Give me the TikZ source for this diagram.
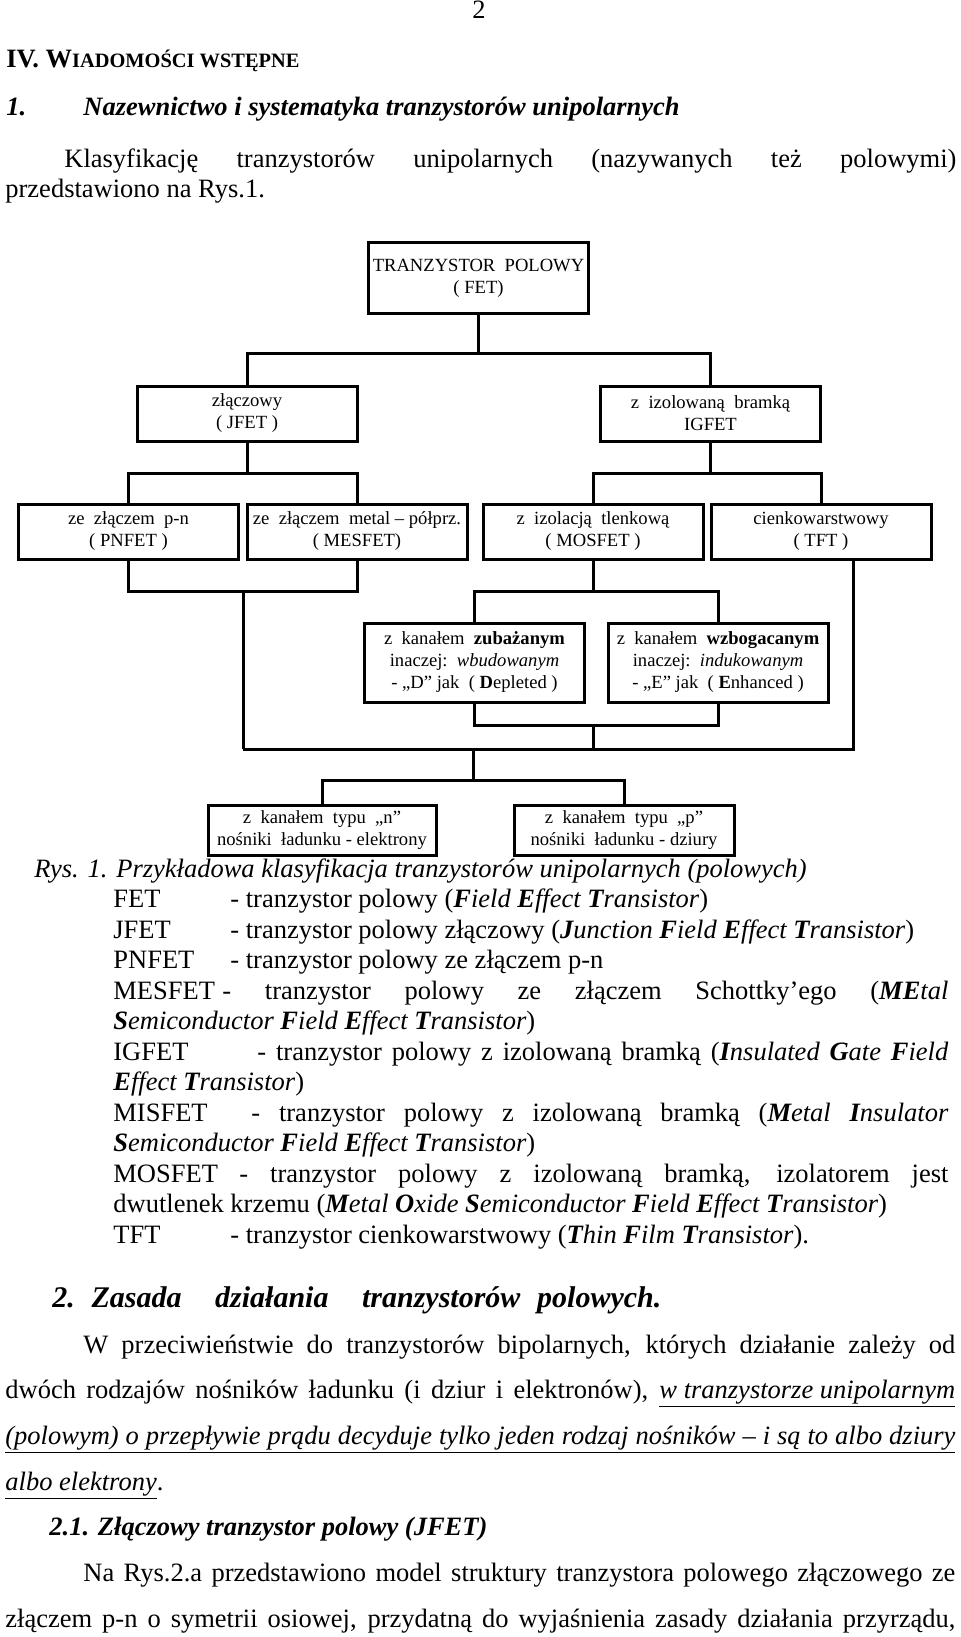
\documentclass[tikz,border=0pt]{standalone}
\usepackage{fontspec}
\setmainfont{Liberation Serif}

\begin{document}
\begin{tikzpicture}[x=0.5pt, y=-0.5pt]
		\tikzstyle{Box} = [rectangle, minimum width=110pt, minimum height=27.5pt, align=center, draw=black, line width=1.5pt, inner sep=0pt, font=\fontsize{9.3}{11}\selectfont]
		\tikzstyle{Line} = [line width=1.5pt]
		\tikzstyle{Txt} = [anchor=base west, inner sep=0pt, font=\fontsize{13.25}{15.5}\selectfont]
		
		\useasboundingbox (0,0) rectangle (960,1637);
		\fill [white] (0,0) rectangle (960,1637);
		
		% page head
		\node (pageNo) [Txt, anchor=base] at (479,19) {2};
		\node (chapter) [Txt] at (6,68) {\bfseries IV. W{\fontsize{10.2}{12}\selectfont IADOMOŚCI WSTĘPNE}};
		\node (secNo) [Txt] at (6,116) {\bfseries\itshape 1.};
		\node (secTitle) [Txt] at (83,116) {\bfseries\itshape Nazewnictwo i systematyka tranzystorów unipolarnych};
		\node (intro1) [Txt] at (64,168) {\makebox[446pt][s]{Klasyfikację tranzystorów unipolarnych (nazywanych też polowymi)}};
		\node (intro2) [Txt] at (5,198) {przedstawiono na Rys.1.};
		
		% tree
		\node (fetNode) [Box, minimum height=35pt] at (478.5,278) {TRANZYSTOR\ \ POLOWY\\( FET)};
		\node (jfetNode) [Box] at (247,413.5) {złączowy\\( JFET )};
		\node (igfetNode) [Box] at (710.5,413.5) {z\ \ izolowaną\ \ bramką\\IGFET};
		\node (pnfetNode) [Box] at (128.5,531.5) {ze\ \ złączem\ \ p-n\\( PNFET )};
		\node (mesfetNode) [Box] at (357,531.5) {ze\ \ złączem\ \ metal – półprz.\\( MESFET)};
		\node (mosfetNode) [Box] at (593,531.5) {z\ \ izolacją\ \ tlenkową\\( MOSFET )};
		\node (tftNode) [Box] at (821,531.5) {cienkowarstwowy\\( TFT )};
		\node (depNode) [Box, minimum height=39.5pt] at (474.5,662.5) {z\ \ kanałem\ \ \textbf{zubażanym}\\inaczej:\ \ \textit{wbudowanym}\\- „D” jak\ \ ( \textbf{D}epleted )};
		\node (enhNode) [Box, minimum height=39.5pt] at (718,662.5) {z\ \ kanałem\ \ \textbf{wzbogacanym}\\inaczej:\ \ \textit{indukowanym}\\- „E” jak\ \ ( \textbf{E}nhanced )};
		\node (nNode) [Box, minimum width=114pt, minimum height=25pt] at (322,830) {z\ \ kanałem\ \ typu\ \ „n”\\nośniki\ \ ładunku - elektrony};
		\node (pNode) [Box, minimum height=25pt] at (624,830) {z\ \ kanałem\ \ typu\ \ „p”\\nośniki\ \ ładunku - dziury};
		
		\coordinate (fetBus) at (478.5,353);
		\coordinate (jfetSplit) at (247,473);
		\coordinate (igfetSplit) at (710.5,473);
		\coordinate (pnJoin) at (243,591);
		\coordinate (mosJoin) at (593,591);
		\coordinate (modeJoin) at (593,725);
		\coordinate (busLeft) at (243,749);
		\coordinate (busMid) at (593,749);
		\coordinate (chanSplit) at (473,749);
		\coordinate (chanJoin) at (473,780);
		
		\draw [Line] (fetNode.south) -- (fetBus);
		\draw [Line] (jfetNode.north) |- (fetBus) -| (igfetNode.north);
		\draw [Line] (jfetNode.south) -- (jfetSplit);
		\draw [Line] (pnfetNode.north) |- (jfetSplit) -| (mesfetNode.north);
		\draw [Line] (igfetNode.south) -- (igfetSplit);
		\draw [Line] (mosfetNode.north) |- (igfetSplit) -| (tftNode.north);
		\draw [Line] (pnfetNode.south) |- (pnJoin) -| (mesfetNode.south);
		\draw [Line] (pnJoin) -- (busLeft);
		\draw [Line] (mosfetNode.south) -- (mosJoin);
		\draw [Line] (depNode.north) |- (mosJoin) -| (enhNode.north);
		\draw [Line] (depNode.south) |- (modeJoin) -| (enhNode.south);
		\draw [Line] (modeJoin) -- (busMid);
		\draw [Line] (busLeft) -- (busMid) -| ([xshift=16pt]tftNode.south);
		\draw [Line] (chanSplit) -- (chanJoin);
		\draw [Line] (nNode.north) |- (chanJoin) -| (pNode.north);
		
		% caption and list
		\node (caption) [Txt] at (34,877) {\itshape Rys. 1. Przykładowa klasyfikacja tranzystorów unipolarnych (polowych)};
		\node (fetTerm) [Txt] at (113,907.5) {FET};
		\node (fetDef) [Txt] at (230,907.5) {- tranzystor polowy (\textit{\textbf{F}ield \textbf{E}ffect \textbf{T}ransistor})};
		\node (jfetTerm) [Txt] at (113,938) {JFET};
		\node (jfetDef) [Txt] at (230,938) {- tranzystor polowy złączowy (\textit{\textbf{J}unction \textbf{F}ield \textbf{E}ffect \textbf{T}ransistor})};
		\node (pnfetTerm) [Txt] at (113,968.5) {PNFET};
		\node (pnfetDef) [Txt] at (230,968.5) {- tranzystor polowy ze złączem p-n};
		\node (mesfetTerm) [Txt] at (113,999) {MESFET};
		\node (mesfetDef) [Txt] at (222,999) {\makebox[363pt][s]{- tranzystor polowy ze złączem Schottky’ego (\textit{\textbf{ME}tal}}};
		\node (mesfetMore) [Txt] at (113,1029.5) {\textit{\textbf{S}emiconductor \textbf{F}ield \textbf{E}ffect \textbf{T}ransistor})};
		\node (igfetTerm) [Txt] at (113,1060) {IGFET};
		\node (igfetDef) [Txt] at (257,1060) {\makebox[345.5pt][s]{- tranzystor polowy z izolowaną bramką (\textit{\textbf{I}nsulated \textbf{G}ate \textbf{F}ield}}};
		\node (igfetMore) [Txt] at (113,1090.5) {\textit{\textbf{E}ffect \textbf{T}ransistor})};
		\node (misfetTerm) [Txt] at (113,1121) {MISFET};
		\node (misfetDef) [Txt] at (251,1121) {\makebox[348.5pt][s]{- tranzystor polowy z izolowaną bramką (\textit{\textbf{M}etal \textbf{I}nsulator}}};
		\node (misfetMore) [Txt] at (113,1151.5) {\textit{\textbf{S}emiconductor \textbf{F}ield \textbf{E}ffect \textbf{T}ransistor})};
		\node (mosfetTerm) [Txt] at (113,1182) {MOSFET};
		\node (mosfetDef) [Txt] at (239,1182) {\makebox[354.5pt][s]{- tranzystor polowy z izolowaną bramką, izolatorem jest}};
		\node (mosfetMore) [Txt] at (113,1212.5) {dwutlenek krzemu (\textit{\textbf{M}etal \textbf{O}xide \textbf{S}emiconductor \textbf{F}ield \textbf{E}ffect \textbf{T}ransistor})};
		\node (tftTerm) [Txt] at (113,1243) {TFT};
		\node (tftDef) [Txt] at (230,1243) {- tranzystor cienkowarstwowy (\textit{\textbf{T}hin \textbf{F}ilm \textbf{T}ransistor}).};
		
		% section 2
		\node (sec2) [Txt, font=\fontsize{15}{17}\selectfont] at (52,1307) {\makebox[304.5pt][s]{\bfseries\itshape 2.\ Zasada\ \ działania\ \ tranzystorów polowych.}};
		\node (para1) [Txt] at (83,1353) {\makebox[436pt][s]{W przeciwieństwie do tranzystorów bipolarnych, których działanie zależy od}};
		\node (para2) [Txt] at (5,1398) {\makebox[475pt][s]{dwóch rodzajów nośników ładunku (i dziur i elektronów), \underline{\textit{w tranzystorze unipolarnym}}}};
		\node (para3) [Txt] at (5,1444) {\underline{\makebox[475pt][s]{\itshape (polowym) o przepływie prądu decyduje tylko jeden rodzaj nośników – i są to albo dziury}}};
		\node (para4) [Txt] at (5,1490) {\underline{\textit{albo elektrony}}.};
		\node (sec21) [Txt] at (49,1535) {\bfseries\itshape 2.1. Złączowy tranzystor polowy (JFET)};
		\node (para5) [Txt] at (83,1581) {\makebox[436pt][s]{Na Rys.2.a przedstawiono model struktury tranzystora polowego złączowego ze}};
		\node (para6) [Txt] at (5,1627) {\makebox[475pt][s]{złączem p-n o symetrii osiowej, przydatną do wyjaśnienia zasady działania przyrządu,}};
\end{tikzpicture}
\end{document}
